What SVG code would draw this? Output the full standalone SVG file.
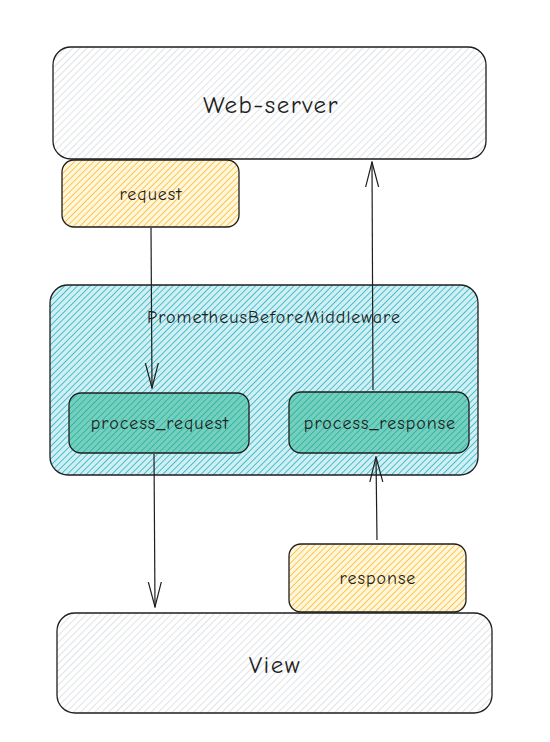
<svg xmlns="http://www.w3.org/2000/svg" width="550" height="742" viewBox="0 0 550 742">
<defs>
<pattern id="hGray" width="5" height="5" patternUnits="userSpaceOnUse" patternTransform="rotate(45)"><rect width="5" height="5" fill="#ffffff"/><line x1="0" y1="0" x2="0" y2="5" stroke="#ced4da" stroke-width="1.3"/></pattern>
<pattern id="hYellow" width="4.5" height="4.5" patternUnits="userSpaceOnUse" patternTransform="rotate(45)"><rect width="4.5" height="4.5" fill="#fff6dc"/><line x1="0" y1="0" x2="0" y2="4.5" stroke="#fab005" stroke-width="1.3"/></pattern>
<pattern id="hTeal" width="4.5" height="4.5" patternUnits="userSpaceOnUse" patternTransform="rotate(45)"><rect width="4.5" height="4.5" fill="#d0eff3"/><line x1="0" y1="0" x2="0" y2="4.5" stroke="#22b0c4" stroke-width="1.5"/></pattern>
<pattern id="hGreen" width="4.5" height="4.5" patternUnits="userSpaceOnUse" patternTransform="rotate(45)"><rect width="4.5" height="4.5" fill="#74cfc0"/><line x1="0" y1="0" x2="0" y2="4.5" stroke="#27b394" stroke-width="1.6"/></pattern>
<marker id="arr" viewBox="0 0 26 20" refX="25" refY="10" markerWidth="26" markerHeight="20" markerUnits="userSpaceOnUse" orient="auto-start-reverse"><path d="M0 3.5 L25 10 L0 16.5" fill="none" stroke="#1e1e1e" stroke-width="1.2"/></marker>
</defs>
<style>
.box{stroke:#1e1e1e;stroke-width:1.3}
.t{font-family:"Comic Neue","Open Sans","Liberation Sans",sans-serif;fill:#1e1e1e;text-anchor:middle;dominant-baseline:central}
.s{font-size:18px;letter-spacing:1px}
.l{font-size:25px;letter-spacing:1.5px}
.edge{stroke:#1e1e1e;stroke-width:1.2;fill:none}
</style>
<rect width="550" height="742" fill="#ffffff"/>
<g id="prometheus">
<rect class="box" x="50" y="285" width="428" height="190" rx="18" fill="url(#hTeal)"/>
<text class="t s" x="274" y="317">PrometheusBeforeMiddleware</text>
</g>
<g id="web-server">
<rect class="box" x="53" y="47" width="433" height="112" rx="18" fill="url(#hGray)"/>
<text class="t l" x="271" y="104">Web-server</text>
</g>
<g id="request">
<rect class="box" x="62" y="160" width="177" height="67" rx="12" fill="url(#hYellow)"/>
<text class="t s" x="151" y="194">request</text>
</g>
<g id="process_request">
<rect class="box" x="69" y="393" width="180" height="60" rx="12" fill="url(#hGreen)"/>
<text class="t s" x="160" y="423">process_request</text>
</g>
<g id="process_response">
<rect class="box" x="289" y="392" width="180" height="61" rx="12" fill="url(#hGreen)"/>
<text class="t s" x="380" y="423">process_response</text>
</g>
<g id="response">
<rect class="box" x="289" y="544" width="177" height="68" rx="12" fill="url(#hYellow)"/>
<text class="t s" x="378" y="578">response</text>
</g>
<g id="view">
<rect class="box" x="57" y="613" width="435" height="100" rx="18" fill="url(#hGray)"/>
<text class="t l" x="275" y="664">View</text>
</g>
<g id="connectors">
<path class="edge" d="M151 228 L152 388" marker-end="url(#arr)"/>
<path class="edge" d="M154 454 L155 607" marker-end="url(#arr)"/>
<path class="edge" d="M373 390 L372 162" marker-end="url(#arr)"/>
<path class="edge" d="M377 540 L376 457" marker-end="url(#arr)"/>
</g>
</svg>
